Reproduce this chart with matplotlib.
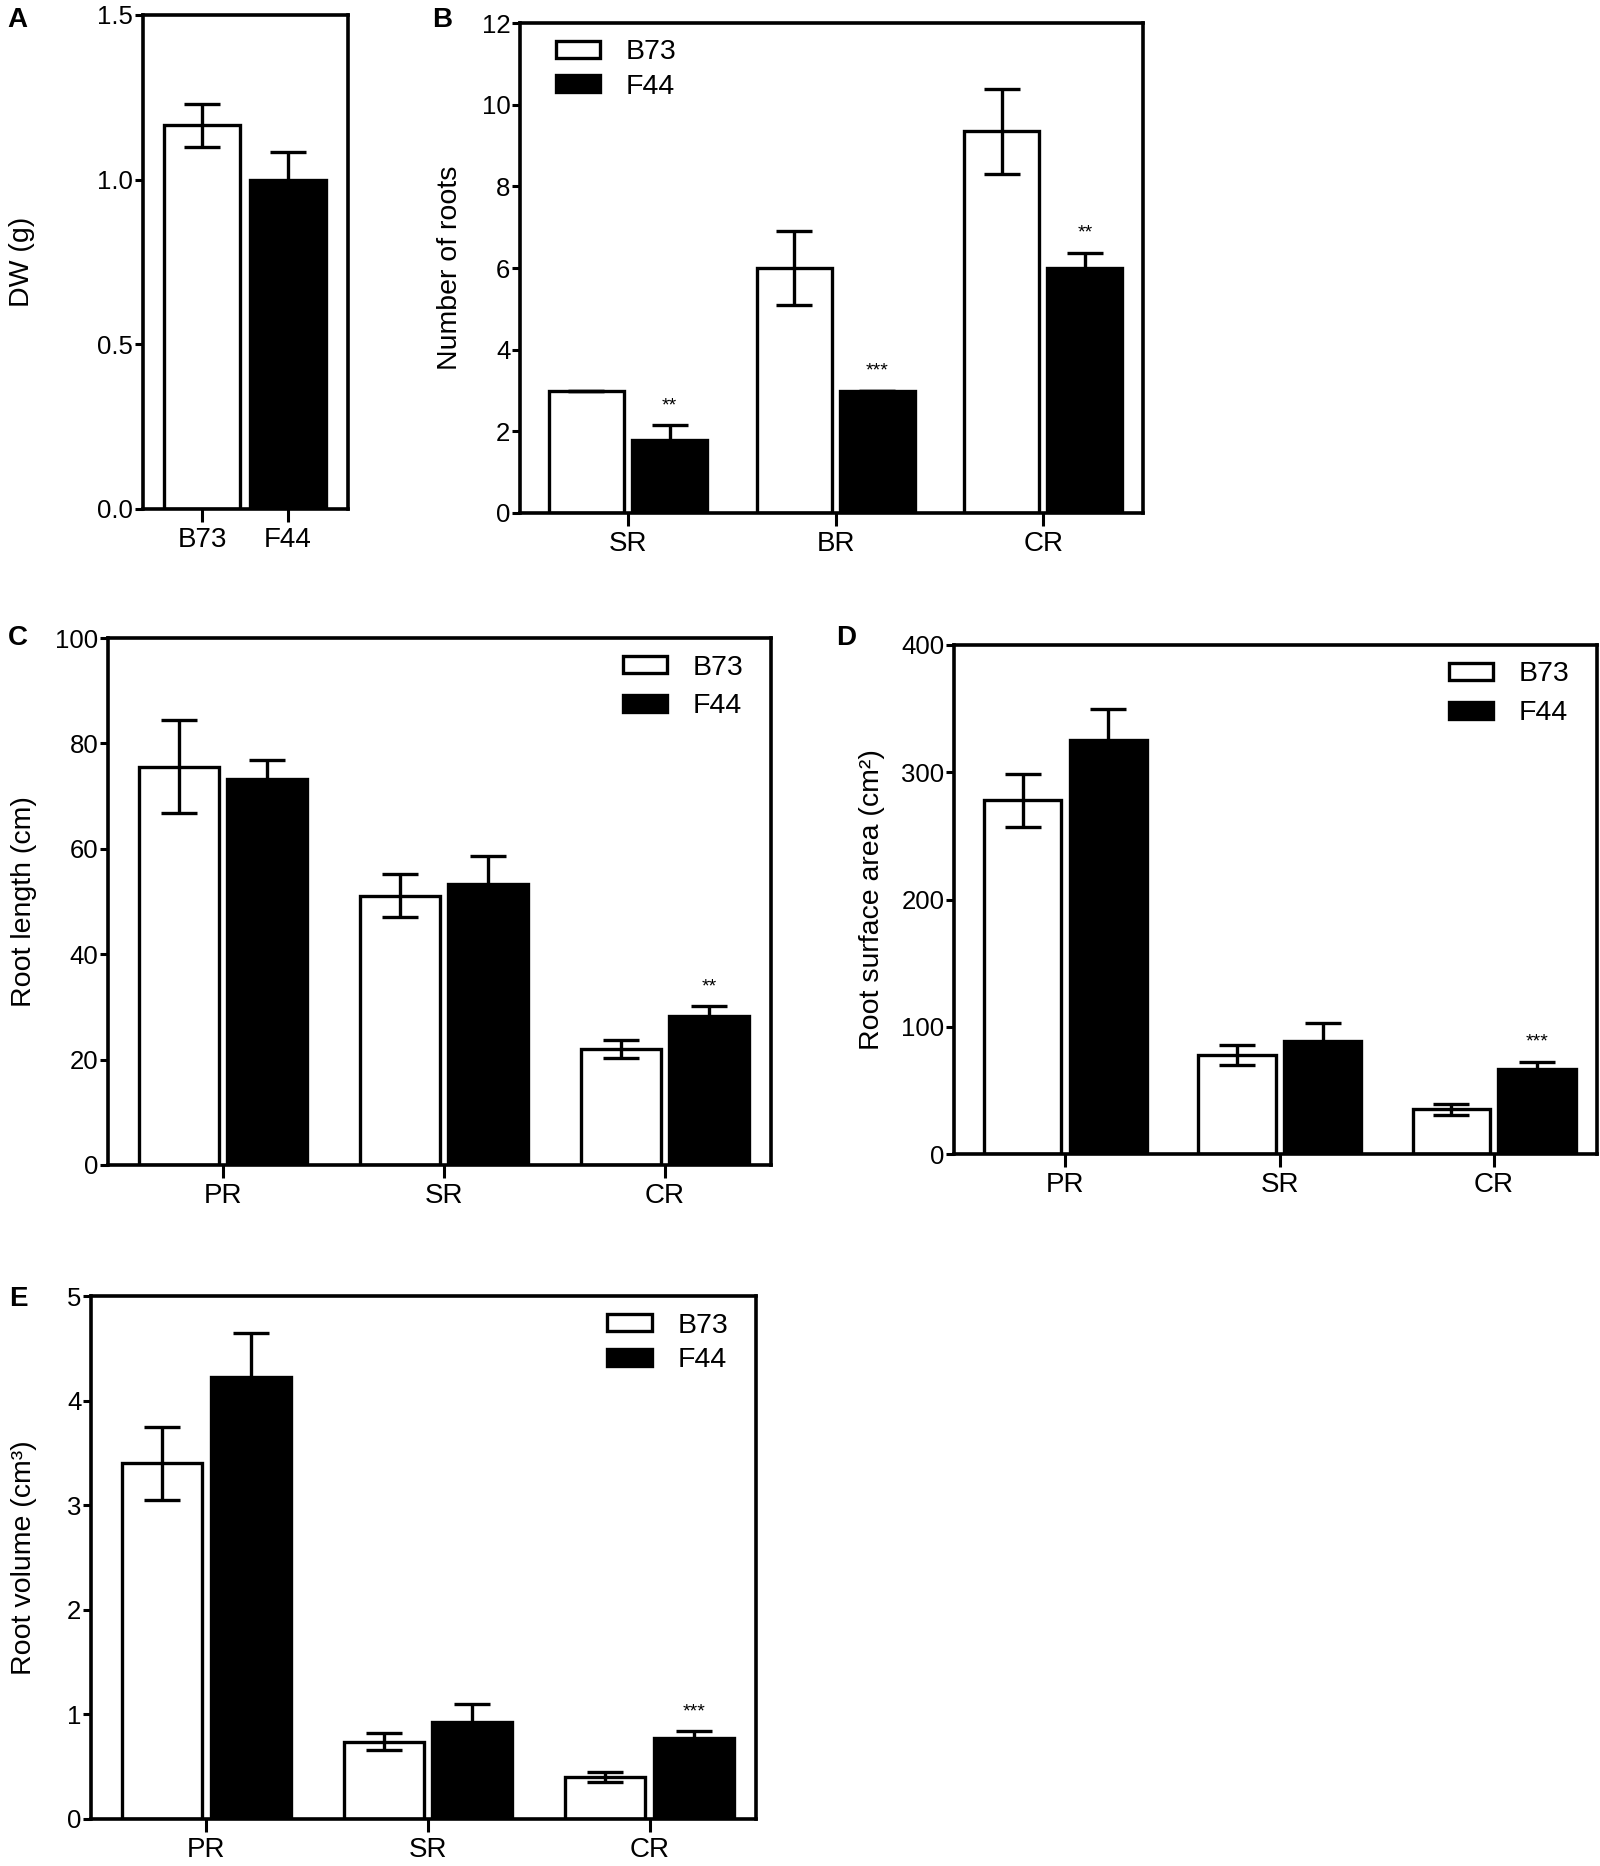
import matplotlib
matplotlib.use("Agg")
import matplotlib.pyplot as plt
from matplotlib.patches import Patch
import numpy as np

plt.rcParams['font.family'] = ['Liberation Sans', 'DejaVu Sans']

W, H = 1600, 1866

# panel A: dry weight
a_cats = ['B73', 'F44']
a_mean = [1.165, 1.0]
a_sem = [0.065, 0.085]

# panel B: number of roots
b_cats = ['SR', 'BR', 'CR']
b_b73 = [3.0, 6.0, 9.35]
b_b73_sem = [0.0, 0.9, 1.04]
b_f44 = [1.8, 3.0, 6.0]
b_f44_sem = [0.35, 0.0, 0.37]
b_stars = ['**', '***', '**']

# panel C: root length
c_cats = ['PR', 'SR', 'CR']
c_b73 = [75.6, 51.1, 22.0]
c_b73_sem = [8.9, 4.1, 1.7]
c_f44 = [73.2, 53.4, 28.3]
c_f44_sem = [3.7, 5.2, 1.8]
c_stars = ['', '', '**']

# panel D: root surface area
d_cats = ['PR', 'SR', 'CR']
d_b73 = [278, 78, 35]
d_b73_sem = [21, 8, 4]
d_f44 = [325, 89, 66.5]
d_f44_sem = [25, 14, 6]
d_stars = ['', '', '***']

# panel E: root volume
e_cats = ['PR', 'SR', 'CR']
e_b73 = [3.4, 0.74, 0.40]
e_b73_sem = [0.35, 0.08, 0.05]
e_f44 = [4.23, 0.93, 0.77]
e_f44_sem = [0.42, 0.17, 0.07]
e_stars = ['', '', '***']

fig = plt.figure(figsize=(16, 18.66), dpi=100)


def px_axes(l, t, r, b):
    # pixel box -> figure fraction axes
    return fig.add_axes([l / W, 1 - b / H, (r - l) / W, (b - t) / H])


def style(ax, ylim, yticks, yfmt, ylabel, lab_right_px, left_px, right_px):
    ax.set_ylim(*ylim)
    ax.set_yticks(yticks)
    ax.set_yticklabels([yfmt.format(v) for v in yticks])
    for s in ax.spines.values():
        s.set_linewidth(2.6)
    ax.tick_params(axis='y', direction='out', length=5.5, width=2.2, labelsize=18.5, pad=1.5)
    ax.tick_params(axis='x', direction='out', length=9, width=2.2, labelsize=20, pad=4)
    ax.set_ylabel(ylabel, fontsize=20.5)
    ax.yaxis.set_label_coords((lab_right_px - left_px) / (right_px - left_px), 0.5)


def grouped(ax, cats, b73, b73s, f44, f44s, stars):
    x = np.arange(len(cats))
    w = 0.36
    ax.bar(x - 0.2, b73, w, color='white', edgecolor='black', linewidth=2.4, zorder=2)
    ax.bar(x + 0.2, f44, w, color='black', edgecolor='black', linewidth=2.4, zorder=2)
    ax.errorbar(x - 0.2, b73, yerr=b73s, fmt='none', ecolor='black', elinewidth=2.4,
                capsize=13, capthick=2.4, zorder=3)
    ax.errorbar(x + 0.2, f44, yerr=f44s, fmt='none', ecolor='black', elinewidth=2.4,
                capsize=13, capthick=2.4, zorder=3)
    for xi, m, s, st in zip(x, f44, f44s, stars):
        if st:
            ax.annotate(st, (xi + 0.2, m + s), xytext=(0, 8), textcoords='offset points',
                        ha='center', va='bottom', fontsize=14)
    ax.set_xticks(x)
    ax.set_xticklabels(cats)
    ax.set_xlim(-0.52, 2.48)


def legend(ax, loc, anchor, spacing):
    h = [Patch(facecolor='white', edgecolor='black', linewidth=2.4, label='B73'),
         Patch(facecolor='black', edgecolor='black', linewidth=2.4, label='F44')]
    ax.legend(handles=h, loc=loc, bbox_to_anchor=anchor, frameon=False, fontsize=20.5,
              handlelength=1.55, handleheight=0.55, handletextpad=0.9, labelspacing=spacing,
              borderaxespad=0)


# A
axA = px_axes(143, 15, 348, 509)
xa = np.arange(len(a_cats))
axA.bar(xa, a_mean, 0.88, color=['white', 'black'], edgecolor='black', linewidth=2.4, zorder=2)
axA.errorbar(xa, a_mean, yerr=a_sem, fmt='none', ecolor='black', elinewidth=2.4,
             capsize=13, capthick=2.4, zorder=3)
axA.set_xticks(xa)
axA.set_xticklabels(a_cats)
axA.set_xlim(-0.69, 1.7)
style(axA, (0, 1.5), [0, 0.5, 1.0, 1.5], '{:.1f}', 'DW (g)', 35, 143, 348)

# B
axB = px_axes(520, 23, 1143, 513)
grouped(axB, b_cats, b_b73, b_b73_sem, b_f44, b_f44_sem, b_stars)
style(axB, (0, 12), [0, 2, 4, 6, 8, 10, 12], '{:d}', 'Number of roots', 463, 520, 1143)
legend(axB, 'upper left', (0.04, 0.99), 0.3)

# C
axC = px_axes(108, 638, 771, 1165)
grouped(axC, c_cats, c_b73, c_b73_sem, c_f44, c_f44_sem, c_stars)
style(axC, (0, 100), [0, 20, 40, 60, 80, 100], '{:d}', 'Root length (cm)', 37, 108, 771)
legend(axC, 'upper right', (0.975, 0.99), 0.45)

# D
axD = px_axes(954, 645, 1597, 1154)
grouped(axD, d_cats, d_b73, d_b73_sem, d_f44, d_f44_sem, d_stars)
style(axD, (0, 400), [0, 100, 200, 300, 400], '{:d}', 'Root surface area (cm²)', 885, 954, 1597)
legend(axD, 'upper right', (0.975, 0.99), 0.45)

# E
axE = px_axes(91, 1296, 756, 1819)
grouped(axE, e_cats, e_b73, e_b73_sem, e_f44, e_f44_sem, e_stars)
style(axE, (0, 5), [0, 1, 2, 3, 4, 5], '{:d}', 'Root volume (cm³)', 37, 91, 756)
legend(axE, 'upper right', (0.975, 0.99), 0.3)

for lab, (px, py) in zip('ABCDE', [(7, 7), (432, 7), (8, 625), (836, 625), (9, 1286)]):
    fig.text(px / W, 1 - py / H, lab, fontsize=20, fontweight='bold', ha='left', va='top')

fig.savefig('out.png', dpi=100)
